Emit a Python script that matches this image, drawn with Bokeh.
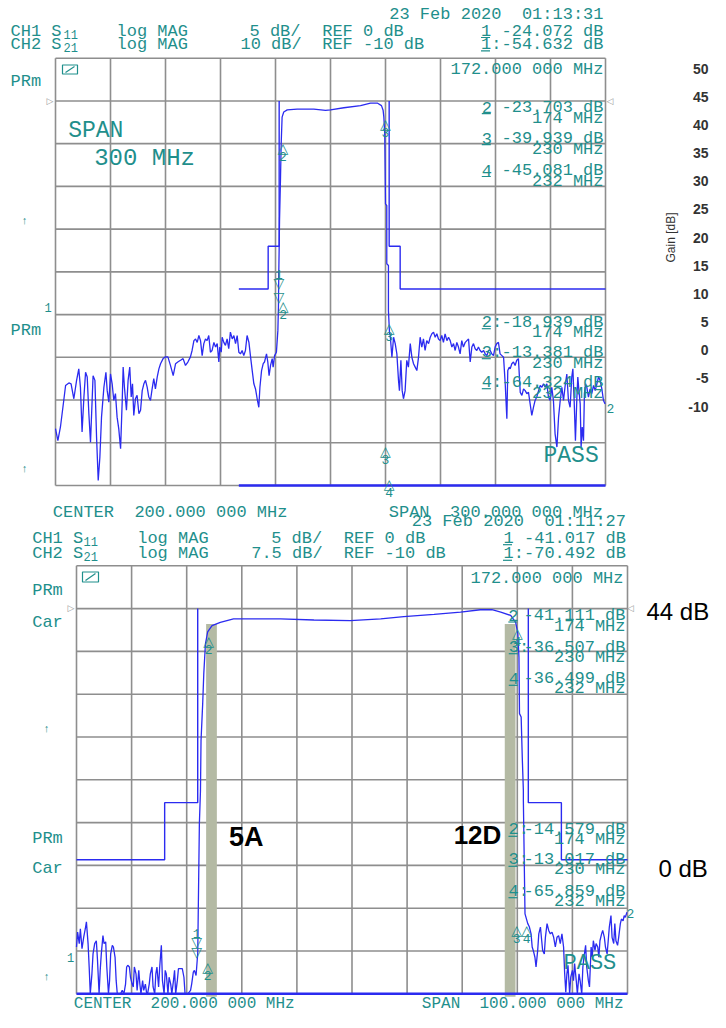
import math
from bokeh.plotting import figure
from bokeh.models import Range1d
from bokeh.embed import file_html
from bokeh.resources import INLINE
from bokeh.core.properties import value

# ---------------- DATA ----------------
# Top sweep: CENTER 200 MHz, SPAN 300 MHz, CH2 S21 log MAG 10 dB/div, REF -10 dB
top_stop_lo_f = [50.0, 51.3, 52.7, 54.5, 55.5, 57.3, 58.5, 60.0, 61.5, 62.7, 63.6, 64.5, 65.5, 66.4, 67.3, 68.2, 69.1, 70.5, 71.5, 72.4,
                 73.3, 74.2, 75.1, 76.4, 77.5, 78.2, 79.1, 80.0, 80.9, 81.8, 82.7, 83.6, 84.5, 85.5, 86.4, 86.9, 87.6, 88.7, 89.6, 90.5,
                 91.3, 92.0, 92.7, 93.6, 94.5, 95.5, 96.4, 97.3, 98.2, 99.1, 100.0, 100.9, 101.8, 102.7, 103.6, 104.5, 105.5, 106.4, 107.3, 108.7,
                 110.0, 111.3, 112.7, 114.2, 115.5, 116.7, 118.2, 119.6, 120.9, 122.2, 123.6, 124.5, 125.5, 126.4, 127.3, 128.2, 129.1, 130.0, 130.9, 131.8,
                 132.7, 133.6, 134.5, 135.4, 136.4, 137.3, 138.2, 139.1, 139.6, 140.4, 140.9, 141.8, 142.7, 143.6, 144.5, 145.4, 146.4, 147.3, 148.2, 149.1,
                 150.0, 150.9, 151.8, 152.7, 153.6, 154.5, 155.5, 156.4, 157.3, 158.2, 159.1, 160.0, 160.9, 161.5, 162.4, 163.3, 164.0, 165.1, 165.8, 166.5,
                 167.3, 168.2, 168.7, 169.5, 170.5, 171.3, 171.6]
top_stop_lo_db = [-86.7, -89.5, -86.3, -80.1, -76.6, -76.0, -76.2, -79.7, -75.4, -72.7, -77.0, -87.5, -79.3, -73.5, -74.6, -83.2, -89.9, -74.3, -75.4, -88.7,
                  -98.8, -93.4, -84.0, -77.0, -73.5, -77.8, -80.5, -73.9, -76.2, -80.1, -78.5, -84.0, -86.7, -91.4, -80.1, -72.3, -77.0, -82.4, -75.4, -72.3,
                  -79.3, -76.2, -83.6, -79.7, -78.9, -83.2, -82.4, -77.8, -76.2, -75.4, -77.0, -79.3, -80.1, -77.4, -75.0, -77.4, -74.6, -72.7, -71.5, -70.3,
                  -69.9, -69.9, -71.9, -74.3, -71.5, -71.1, -70.7, -70.3, -71.9, -71.1, -69.9, -68.4, -66.1, -65.7, -66.5, -64.9, -66.1, -69.6, -66.8, -65.7,
                  -66.1, -64.9, -68.8, -68.4, -66.5, -67.6, -66.8, -71.1, -67.6, -68.8, -65.3, -66.5, -67.2, -65.7, -68.0, -64.1, -65.7, -64.9, -66.8, -64.9,
                  -68.8, -69.2, -68.4, -69.6, -68.4, -64.9, -66.5, -69.9, -73.1, -76.2, -77.4, -79.7, -81.7, -77.0, -73.1, -71.5, -71.1, -69.2, -71.1, -74.3,
                  -71.9, -70.3, -72.3, -69.6, -68.8, -63.7, -58.3]
top_pass_f = [171.8, 172.0, 172.2, 172.7, 173.1, 173.6, 174.5, 176.4, 181.8, 190.9, 197.3, 200.0, 207.3, 216.4, 221.8, 225.5, 227.8,
              228.7, 229.1, 229.6, 230.0, 230.7, 230.7, 231.6, 231.6, 232.2]
top_pass_db = [-50.0, -44.4, -38.0, -28.6, -20.0, -13.8, -12.6, -12.1, -11.9, -11.9, -12.2, -12.1, -11.6, -11.1, -10.5, -10.5, -11.1,
               -12.2, -13.8, -17.8, -34.1, -34.5, -48.1, -48.5, -59.1, -64.4]
top_stop_hi_f = [232.5, 233.5, 234.4, 235.3, 236.2, 237.1, 237.6, 238.4, 239.1, 239.8, 240.7, 241.6, 242.5, 243.5, 244.4, 245.3, 246.2, 247.1, 248.0, 248.9,
                 249.8, 250.7, 251.6, 252.5, 253.5, 254.4, 255.3, 256.2, 257.1, 258.0, 258.9, 259.8, 260.7, 261.6, 262.5, 263.5, 264.4, 265.3, 266.2, 267.1,
                 268.0, 268.9, 269.8, 270.7, 271.6, 272.5, 273.5, 274.4, 275.3, 276.2, 277.1, 278.0, 278.9, 279.8, 280.7, 281.6, 282.5, 283.5, 284.4, 285.3,
                 286.2, 287.1, 288.0, 288.9, 289.8, 290.7, 291.6, 292.5, 293.5, 294.4, 295.3, 296.2, 296.7, 297.5, 298.0, 298.9, 299.8, 300.7, 301.6, 302.5,
                 303.5, 304.4, 305.3, 306.2, 307.1, 308.0, 308.9, 309.8, 310.7, 311.6, 312.5, 313.5, 314.4, 315.3, 316.2, 317.1, 318.0, 318.9, 319.8, 320.7,
                 321.6, 322.5, 323.5, 324.4, 325.3, 326.2, 327.1, 328.0, 328.9, 329.8, 330.7, 331.6, 332.2, 332.9, 333.6, 334.4, 334.9, 335.5, 336.2, 336.7,
                 337.3, 338.0, 338.5, 339.1, 339.8, 340.7, 341.6, 342.5, 343.5, 344.4, 345.3, 346.2, 347.1, 348.0, 348.9, 349.8]
top_stop_hi_db = [-64.5, -70.0, -65.3, -66.8, -69.2, -75.4, -77.8, -70.7, -77.8, -79.7, -77.8, -70.7, -72.3, -66.8, -70.0, -71.5, -72.3, -73.1, -70.0, -65.3,
                  -67.6, -65.7, -68.4, -66.1, -66.8, -65.3, -64.5, -64.1, -65.3, -64.5, -65.7, -66.1, -64.9, -66.5, -64.5, -66.1, -65.3, -66.1, -67.6, -66.8,
                  -68.4, -66.5, -67.6, -69.2, -66.1, -67.6, -66.5, -66.1, -65.7, -71.1, -67.6, -66.8, -68.0, -68.4, -67.6, -68.4, -68.8, -68.4, -69.2, -69.6,
                  -68.4, -68.4, -69.2, -69.6, -67.6, -66.8, -66.5, -69.2, -69.6, -70.0, -76.2, -84.4, -73.1, -72.3, -72.7, -71.5, -71.1, -71.9, -70.7, -70.3,
                  -78.2, -78.9, -77.4, -77.8, -78.5, -78.2, -80.9, -83.6, -81.7, -80.1, -79.3, -77.8, -76.6, -77.0, -76.2, -77.0, -76.2, -79.3, -80.1, -77.0,
                  -80.1, -87.9, -91.0, -84.0, -80.1, -77.0, -80.1, -76.6, -73.9, -80.1, -81.7, -74.6, -72.7, -80.1, -89.5, -79.3, -74.6, -77.8, -80.9, -91.0,
                  -86.3, -89.5, -78.5, -76.2, -77.0, -79.3, -77.4, -78.5, -76.6, -77.8, -76.2, -74.6, -75.4, -77.4, -80.1, -80.9]

# Bottom sweep: CENTER 200 MHz, SPAN 100 MHz, CH2 S21 log MAG 7.5 dB/div, REF -10 dB
bot_stop_lo_f = [150.0, 150.2, 150.5, 150.7, 151.0, 151.3, 151.6, 151.8, 152.1, 152.3, 152.5, 152.8, 153.0, 153.3, 153.6, 153.8, 154.1, 154.3, 154.5, 154.8,
                 155.0, 155.3, 155.5, 155.8, 156.0, 156.2, 156.5, 156.7, 157.0, 157.2, 157.4, 158.0, 158.3, 158.6, 158.9, 159.1, 159.3, 159.6, 159.8, 160.1,
                 160.3, 160.5, 160.8, 161.0, 161.3, 161.5, 161.7, 162.0, 162.2, 162.5, 162.7, 162.9, 163.2, 163.4, 163.7, 163.9, 164.2, 164.4, 164.6, 164.9,
                 165.1, 165.4, 165.6, 165.9, 166.1, 166.3, 166.6, 166.8, 167.1, 167.3, 167.6, 167.8, 168.0, 168.3, 168.5, 169.2, 169.5, 169.7, 170.2, 170.7,
                 170.9, 171.2, 171.4, 171.7, 171.9, 172.0]
bot_stop_lo_db = [-69.3, -66.7, -68.7, -66.1, -69.6, -67.6, -66.1, -64.9, -68.7, -72.8, -77.5, -74.0, -70.5, -68.7, -68.2, -71.4, -77.5, -73.4, -70.5, -67.3,
                  -68.7, -68.4, -72.8, -77.5, -75.2, -70.5, -69.0, -69.3, -71.1, -75.2, -77.5, -77.5, -76.9, -77.5, -75.8, -72.8, -72.5, -72.8, -74.6, -75.8,
                  -76.3, -72.8, -74.0, -76.9, -73.4, -75.8, -77.5, -75.2, -76.9, -75.8, -77.2, -77.5, -75.8, -74.0, -72.8, -76.3, -77.5, -74.0, -72.8, -76.3,
                  -72.8, -69.0, -75.2, -77.5, -73.4, -74.0, -77.5, -74.6, -75.8, -77.5, -75.2, -73.4, -77.5, -75.2, -73.1, -73.1, -74.6, -77.5, -77.5, -76.9,
                  -75.8, -73.7, -73.4, -74.3, -71.7, -70.5]
bot_pass_f = [172.3, 172.5, 172.6, 172.9, 173.1, 173.4, 173.8, 174.6, 176.1, 178.5, 181.0, 187.0, 193.1, 199.7, 205.2, 209.4, 214.9, 219.7,
              223.3, 225.4, 227.0, 228.8, 229.7, 230.1, 230.3, 230.4, 230.7, 230.9, 231.1, 231.1, 231.4, 231.9]
bot_pass_db = [-47.7, -41.9, -33.1, -26.7, -21.4, -16.2, -14.1, -13.0, -12.4, -11.8, -11.8, -11.8, -12.0, -12.1, -11.8, -11.4, -11.0, -10.6,
               -10.2, -10.2, -10.6, -11.2, -12.4, -14.4, -18.5, -28.4, -29.0, -36.0, -41.9, -43.6, -63.5, -65.2]
bot_stop_hi_f = [232.2, 232.5, 232.7, 232.9, 233.2, 233.4, 233.7, 233.9, 234.2, 234.4, 234.6, 234.9, 235.1, 235.4, 235.7, 236.0, 236.3, 236.6, 236.9, 237.2,
                 237.5, 237.8, 238.1, 238.4, 238.6, 238.8, 239.0, 239.2, 239.5, 239.7, 240.0, 240.2, 240.4, 240.7, 240.9, 241.2, 241.4, 241.7, 241.9, 242.1,
                 242.4, 242.6, 242.9, 243.1, 243.4, 243.6, 243.8, 244.1, 244.3, 244.6, 244.8, 245.0, 245.3, 245.5, 245.8, 246.0, 246.3, 246.5, 246.7, 247.0,
                 247.2, 247.5, 247.7, 247.9, 248.2, 248.4, 248.7, 248.9, 249.2, 249.4, 249.6, 249.9]
bot_stop_hi_db = [-65.8, -67.0, -69.3, -69.9, -71.1, -72.8, -69.9, -67.0, -65.8, -67.9, -69.9, -70.5, -67.6, -65.2, -66.4, -67.0, -66.7, -67.6, -69.3, -67.6,
                  -67.3, -68.7, -67.0, -69.3, -74.0, -77.2, -74.0, -72.5, -77.5, -74.6, -73.4, -75.2, -72.2, -75.2, -77.5, -74.0, -75.2, -77.5, -72.8, -71.1,
                  -69.0, -72.8, -75.2, -76.3, -69.3, -71.1, -68.2, -69.9, -68.7, -69.3, -71.1, -68.2, -67.0, -66.4, -67.6, -69.3, -70.5, -68.2, -65.8, -63.8,
                  -67.6, -68.7, -65.2, -68.2, -69.0, -67.6, -65.2, -64.4, -64.7, -63.8, -64.1, -63.2]

# limit-line mask (same in both sweeps), dB
mask_lo_f = [150, 166, 166, 172, 172]
mask_lo_db = [-54, -54, -44, -44, -10]
mask_hi_f = [232, 232, 238, 238]
mask_hi_db = [-10, -44, -44, -54]

# markers (freq MHz, dB, direction, label)
top_mk_f = [174.0, 230.0, 171.8, 171.8, 174.2, 232.0, 230.0, 232.0]
top_mk_db = [-19.7, -13.9, -54.0, -57.4, -56.7, -61.8, -90.6, -98.3]
top_mk_dir = ["up", "up", "down", "down", "up", "up", "up", "up"]
top_mk_lab = ["2", "3", "1", "", "2", "3", "3", "4"]
bot_mk_f = [174.0, 230.0, 171.8, 171.8, 173.8, 229.9, 231.7]
bot_mk_db = [-14.7, -13.3, -69.4, -71.2, -71.7, -65.2, -65.2]
bot_mk_dir = ["up", "up", "down", "down", "up", "up", "up"]
bot_mk_lab = ["2", "4", "1", "", "2", "3", "4"]

# highlighted bands in lower sweep
band_center = [174.5, 228.7]
band_width = [1.95, 1.95]
band_top_db = -12.7
band_bottom_db = -78.0
band_names = ["5A", "12D"]

# gain scale
gain_ticks = [50, 45, 40, 35, 30, 25, 20, 15, 10, 5, 0, -5, -10]

# ---------------- STYLE / LAYOUT ----------------
TEAL = "#1f8f8c"
BLUE = "#2b2bf0"
GRIDC = "#8e8e8e"
BAND = "#b4baa4"
MONO = "Liberation Mono"
SANS = "Liberation Sans"
NB = "\u00a0"
W, H = 710, 1012
X0, Y0 = 0, 0  # picture coordinates of canvas origin


def lin_range(va, pa, vb, pb, p_start, p_end):
    k = (vb - va) / (pb - pa)
    return Range1d(start=va + (p_start - pa) * k, end=va + (p_end - pa) * k)


XL, XR = X0, X0 + W
YB, YT = Y0 + H, Y0

p = figure(width=W, height=H,
           x_range=lin_range(50, 55, 350, 605, XL, XR),
           y_range=lin_range(0, 57.7, -100, 485, YB, YT),
           output_backend="svg", toolbar_location=None, min_border=0,
           x_axis_location=None, y_axis_location=None, outline_line_color=None)
p.xgrid.visible = False
p.ygrid.visible = False
p.background_fill_color = "white"
p.border_fill_color = "white"
p.extra_x_ranges = {"fb": lin_range(150, 76, 250, 627, XL, XR), "px": Range1d(XL, XR)}
p.extra_y_ranges = {"db": lin_range(-2.5, 565.3, -77.5, 993.3, YB, YT),
                    "px": Range1d(YB, YT),
                    "gain": lin_range(50, 68, -10, 406, YB, YT)}

# ---- graticules ----
def graticule(f0, f1, d0, d1, xr, yr):
    xs, ys = [], []
    for i in range(11):
        f = f0 + (f1 - f0) * i / 10
        xs.append([f, f]); ys.append([d0, d1])
        d = d0 + (d1 - d0) * i / 10
        xs.append([f0, f1]); ys.append([d, d])
    p.multi_line(xs, ys, line_color=GRIDC, line_width=1.6, x_range_name=xr, y_range_name=yr)

graticule(50, 350, 0, -100, "default", "default")
graticule(150, 250, -2.5, -77.5, "fb", "db")

# ---- bands ----
p.quad(left=[c - w / 2 for c, w in zip(band_center, band_width)],
       right=[c + w / 2 for c, w in zip(band_center, band_width)],
       top=[band_top_db] * 2, bottom=[band_bottom_db] * 2, fill_color=BAND, line_color=None,
       x_range_name="fb", y_range_name="db")

# ---- limit lines & traces ----
def panel_lines(stop, bottom_db, lo_f, lo_db, pa_f, pa_db, hi_f, hi_db, xr, yr):
    p.line(mask_lo_f, mask_lo_db, line_color=BLUE, line_width=1.4, x_range_name=xr, y_range_name=yr)
    p.line(mask_hi_f + [stop], mask_hi_db + [-54], line_color=BLUE, line_width=1.4, x_range_name=xr, y_range_name=yr)
    p.line([150, stop], [bottom_db, bottom_db], line_color=BLUE, line_width=2.6, x_range_name=xr, y_range_name=yr)
    p.line(lo_f + pa_f + hi_f, lo_db + pa_db + hi_db, line_color=BLUE, line_width=1.3,
           x_range_name=xr, y_range_name=yr)

panel_lines(350, -100, top_stop_lo_f, top_stop_lo_db, top_pass_f, top_pass_db, top_stop_hi_f, top_stop_hi_db, "default", "default")
panel_lines(250, -77.5, bot_stop_lo_f, bot_stop_lo_db, bot_pass_f, bot_pass_db, bot_stop_hi_f, bot_stop_hi_db, "fb", "db")

# ---- markers ----
def draw_markers(fs, dbs, dirs, labs, xr, yr):
    for f, d, dr, lab in zip(fs, dbs, dirs, labs):
        up = dr == "up"
        p.text(x=[f], y=[d], text=["△" if up else "▽"], text_baseline="top" if up else "bottom",
               text_align="center", y_offset=-2 if up else 2,
               text_font=value("DejaVu Sans"), text_font_size="14px", text_color=TEAL,
               x_range_name=xr, y_range_name=yr)
        if lab:
            p.text(x=[f], y=[d], text=[lab], text_baseline="top" if up else "bottom", text_align="center",
                   y_offset=10 if up else -10,
                   text_font=value(MONO), text_font_size="13px", text_color=TEAL,
                   x_range_name=xr, y_range_name=yr)

draw_markers(top_mk_f, top_mk_db, top_mk_dir, top_mk_lab, "default", "default")
draw_markers(bot_mk_f, bot_mk_db, bot_mk_dir, bot_mk_lab, "fb", "db")

# ---- text helpers (picture pixel coordinates) ----
def put(x, y, s, size=17, align="left", color=TEAL, font=MONO, style="normal", baseline="middle", angle=0.0, yr="px"):
    p.text(x=[x], y=[y], text=[s.replace("  ", NB + NB)], x_range_name="px", y_range_name=yr,
           text_font=value(font), text_font_size=f"{size}px", text_align=align,
           text_baseline=baseline, text_color=color, text_font_style=style, angle=angle)

ul_x0, ul_x1, ul_y = [], [], []
def underline(x, y):
    ul_x0.append(x); ul_x1.append(x + 9); ul_y.append(y + 6.5)

def header(date_right, date, y1, y2, left, sub_x, logx, div1, div1x, div2, div2x, refx, ref2, mk_right, m1, m2, mkx):
    put(date_right, y1 - 16.5, date, align="right")
    put(left, y1, "CH1 S"); put(sub_x, y1 + 3, "11", size=12)
    put(left, y2, "CH2 S"); put(sub_x, y2 + 3, "21", size=12)
    put(logx, y1, "log MAG"); put(logx, y2, "log MAG")
    put(div1x, y1, div1); put(div2x, y2, div2)
    put(refx, y1, "REF 0 dB"); put(refx, y2, ref2)
    put(mk_right, y1, "1 " + m1, align="right"); put(mk_right, y2, "1:" + m2, align="right")
    underline(mkx, y1); underline(mkx, y2)

header(603, "23 Feb 2020  01:13:31", 30.5, 43.8, 10, 63, 116, "5 dB/", 249, "10 dB/", 240, 321.7,
       "REF -10 dB", 603, "-24.072 dB", "-54.632 dB", 480.5)
header(625.5, "23 Feb 2020  01:11:27", 537.7, 553.3, 31.7, 83, 136.7, "5 dB/", 270.7, "7.5 dB/", 250.7, 343.3,
       "REF -10 dB", 625.5, "-41.017 dB", "-70.492 dB", 502.5)

def readout(lx, rx, y, lab, val, freq, dy=11):
    put(lx, y, lab); underline(lx, y)
    put(rx, y, val, align="right")
    put(rx, y + dy, freq, align="right")

put(603, 69, "172.000 000 MHz", align="right")
readout(481.3, 603, 106.7, "2", "-23.703 dB", "174 MHz")
readout(481.3, 603, 137.7, "3", "-39.939 dB", "230 MHz")
readout(481.3, 603, 169.5, "4", "-45.081 dB", "232 MHz")
readout(481.3, 603, 321.7, "2:", "-18.939 dB", "174 MHz", 10)
readout(481.3, 603, 351.7, "3:", "-13.381 dB", "230 MHz")
readout(481.3, 603, 381.7, "4:", "-64.324 dB", "232 MHz")
put(606, 408, "2", size=13)
put(543, 455, "PASS", size=23)
put(67.7, 130.7, "SPAN", size=23)
put(93.7, 157.7, "300 MHz", size=24)
put(52.3, 511.7, "CENTER  200.000 000 MHz")
put(602.5, 512, "SPAN  300.000 000 MHz", align="right")
put(10, 81, "PRm"); put(10, 330, "PRm")
put(24, 220, "↑", size=11, align="center"); put(24, 468, "↑", size=11, align="center")
put(47.7, 306.7, "1", size=12, align="center")
put(49.5, 100, "▷", size=9, align="center", color="#9a9a9a", font="DejaVu Sans")
put(609.5, 100, "◁", size=9, align="center", color="#9a9a9a", font="DejaVu Sans")

put(623, 578.3, "172.000 000 MHz", align="right")
readout(507.7, 625, 615, "2", "-41.111 dB", "174 MHz")
readout(508.3, 625, 646.7, "3:", "-36.507 dB", "230 MHz", 10)
readout(508.3, 625, 678.3, "4", "-36.499 dB", "232 MHz", 9.5)
readout(508, 625, 829.3, "2:", "-14.579 dB", "174 MHz", 10)
readout(508, 625, 859.3, "3:", "-13.017 dB", "230 MHz", 10)
readout(508, 625, 890.7, "4:", "-65.859 dB", "232 MHz", 10.3)
put(626, 913, "2", size=13)
put(563, 962.7, "PASS", size=22)
put(73.3, 1003, "CENTER  200.000 000 MHz", size=16)
put(623, 1003, "SPAN  100.000 000 MHz", align="right", size=16)
put(31.7, 590, "PRm"); put(31.7, 621.7, "Car")
put(31.7, 838, "PRm"); put(31.7, 868.3, "Car")
put(46, 728, "↑", size=11, align="center"); put(46, 976.7, "↑", size=11, align="center")
put(70, 956.7, "1", size=12, align="center")
put(70.5, 607.7, "▷", size=9, align="center", color="#9a9a9a", font="DejaVu Sans")
put(630, 607.7, "◁", size=9, align="center", color="#9a9a9a", font="DejaVu Sans")

p.segment(x0=ul_x0, y0=ul_y, x1=ul_x1, y1=ul_y, line_color=TEAL, line_width=1.2,
          x_range_name="px", y_range_name="px")

# small status icons
p.quad(left=[62, 82], right=[77, 98], top=[64.5, 571.5], bottom=[73.5, 581.5], fill_color=None,
       line_color=TEAL, line_width=1.2, x_range_name="px", y_range_name="px")
p.segment(x0=[65, 85], y0=[72, 580], x1=[74, 95], y1=[66, 573], line_color=TEAL, line_width=1.2,
          x_range_name="px", y_range_name="px")

# band labels and gain annotations
put(245.8, 836.7, band_names[0], size=27, align="center", color="black", font=SANS, style="bold")
put(477.0, 834.0, band_names[1], size=26, align="center", color="black", font=SANS, style="bold")
put(646, 610.5, "44 dB", size=24, color="black", font=SANS)
put(658, 868.3, "0 dB", size=24, color="black", font=SANS)

for g in gain_ticks:
    put(708, g, str(g), size=14, align="right", color="#333333", font=SANS, style="bold", yr="gain")
put(670, 20, "Gain [dB]", size=12, align="center", color="#333333", font=SANS, angle=math.pi / 2, yr="gain")

open("out.html", "w").write(file_html(p, INLINE))
